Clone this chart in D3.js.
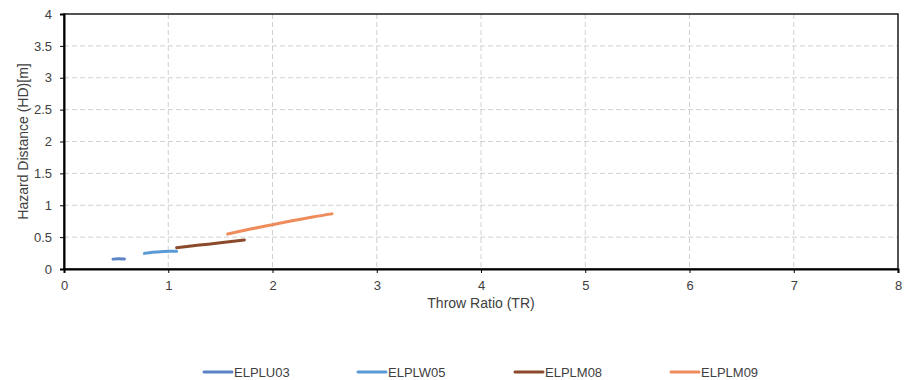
<!DOCTYPE html>
<html>
<head>
<meta charset="utf-8">
<script src="https://cdn.jsdelivr.net/npm/d3@7"></script>
<style>
  body { margin: 0; background: #fff; }
  text { font-family: "Liberation Sans", Arial, sans-serif; fill: #404040; }
</style>
</head>
<body>
<div id="container"></div>
<script>
// series
const seriesNames = ["ELPLU03", "ELPLW05", "ELPLM08", "ELPLM09"];
const seriesColors = ["#5b84c6", "#5a9bd5", "#8b4a2c", "#ee8c5c"];
const elplu03 = [[0.47, 0.155], [0.52, 0.162], [0.58, 0.158]];
const elplw05 = [[0.77, 0.245], [0.85, 0.262], [0.95, 0.275], [1.02, 0.28], [1.08, 0.28]];
const elplm08 = [[1.08, 0.335], [1.3, 0.375], [1.5, 0.41], [1.73, 0.455]];
const elplm09 = [[1.57, 0.55], [1.8, 0.63], [2.0, 0.695], [2.2, 0.76], [2.4, 0.82], [2.57, 0.865]];
const xTicks = [0, 1, 2, 3, 4, 5, 6, 7, 8];
const yTicks = [0, 0.5, 1, 1.5, 2, 2.5, 3, 3.5, 4];

const width = 910, height = 380;
const margin = {left: 64, right: 12, top: 14, bottom: 111};

const svg = d3.select("#container").append("svg")
  .attr("width", width)
  .attr("height", height);

const x = d3.scaleLinear().domain([0, 8]).range([margin.left, width - margin.right]);
const y = d3.scaleLinear().domain([0, 4]).range([height - margin.bottom, margin.top]);

// grid
svg.append("g").selectAll("line")
  .data(xTicks.slice(1, -1))
  .join("line")
  .attr("x1", d => x(d)).attr("x2", d => x(d))
  .attr("y1", y(4)).attr("y2", y(0))
  .attr("stroke", "#d0d0d0").attr("stroke-width", 1).attr("stroke-dasharray", "5,3");

svg.append("g").selectAll("line")
  .data(yTicks.slice(1, -1))
  .join("line")
  .attr("x1", x(0)).attr("x2", x(8))
  .attr("y1", d => y(d)).attr("y2", d => y(d))
  .attr("stroke", "#d0d0d0").attr("stroke-width", 1).attr("stroke-dasharray", "5,3");

// frame
svg.append("rect")
  .attr("x", x(0)).attr("y", y(4))
  .attr("width", x(8) - x(0)).attr("height", y(0) - y(4))
  .attr("fill", "none").attr("stroke", "#1a1a1a").attr("stroke-width", 1.5);

// axes
const xAxis = svg.append("g")
  .attr("transform", `translate(0,${y(0)})`)
  .call(d3.axisBottom(x).tickValues(xTicks).tickSize(4).tickPadding(8).tickFormat(d3.format("d")));
const yAxis = svg.append("g")
  .attr("transform", `translate(${x(0)},0)`)
  .call(d3.axisLeft(y).tickValues(yTicks).tickSize(4).tickPadding(8).tickFormat(d => d));

[xAxis, yAxis].forEach(a => {
  a.select(".domain").attr("stroke", "#000").attr("stroke-width", 2);
  a.selectAll(".tick line").attr("stroke", "#000");
  a.selectAll(".tick text").style("font-size", "13px").style("fill", "#404040")
    .style("font-family", "'Liberation Sans', Arial, sans-serif");
});

// titles
svg.append("text")
  .attr("x", (x(0) + x(8)) / 2).attr("y", 308)
  .attr("text-anchor", "middle")
  .style("font-size", "14px")
  .text("Throw Ratio (TR)");

svg.append("text")
  .attr("transform", `translate(28,${(y(0) + y(4)) / 2}) rotate(-90)`)
  .attr("text-anchor", "middle")
  .style("font-size", "14px")
  .text("Hazard Distance (HD)[m]");

// lines
const line = d3.line().x(d => x(d[0])).y(d => y(d[1])).curve(d3.curveMonotoneX);
const allSeries = [elplu03, elplw05, elplm08, elplm09];

svg.append("g").selectAll("path")
  .data(allSeries)
  .join("path")
  .attr("d", line)
  .attr("fill", "none")
  .attr("stroke", (d, i) => seriesColors[i])
  .attr("stroke-width", 3)
  .attr("stroke-linecap", "round");

// legend
const legendX = [204, 358, 515, 671];
const legend = svg.append("g").selectAll("g")
  .data(seriesNames)
  .join("g")
  .attr("transform", (d, i) => `translate(${legendX[i]},372)`);

legend.append("line")
  .attr("x1", 0).attr("x2", 28)
  .attr("stroke", (d, i) => seriesColors[i])
  .attr("stroke-width", 3).attr("stroke-linecap", "round");

legend.append("text")
  .attr("x", 30).attr("y", 4.5)
  .style("font-size", "13px")
  .text(d => d);
</script>
</body>
</html>
